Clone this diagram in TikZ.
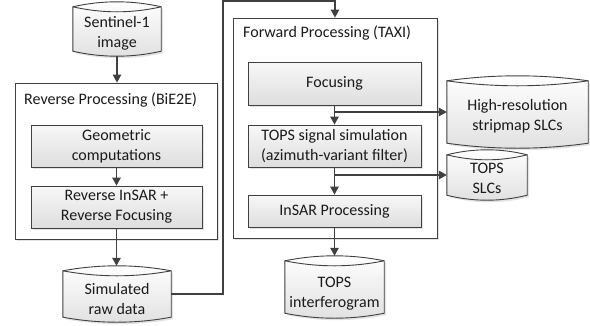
\documentclass[tikz,border=0pt]{standalone}
\usepackage{fontspec}
\setmainfont{Carlito}
\usetikzlibrary{arrows.meta,calc,shadows}

\definecolor{ln}{HTML}{404040}
\definecolor{tx}{HTML}{1A1A1A}

\tikzset{
  every node/.style={font=\fontsize{16}{20}\selectfont, text=tx, inner sep=0pt, align=center},
  shade/.style={drop shadow={opacity=0.22, shadow xshift=2pt, shadow yshift=-2pt}},
  outerbox/.style={draw=ln, line width=0.9pt, fill=white, shade},
  innerbox/.style={draw=ln, line width=0.9pt, top color=white!97!black, bottom color=white!87!black, shade,
    minimum width=173pt},
  holder/.style={draw=none},
  storefill/.style={draw=ln, line width=0.9pt, top color=white, bottom color=white!88!black, shade},
  storeline/.style={draw=ln, line width=0.9pt},
  arr/.style={draw=ln, line width=1.3pt, -{Triangle[length=8pt,width=8.5pt]}},
  conn/.style={draw=ln, line width=1.3pt},
}

\newcommand\storeshape[1]{%
  \path[storefill] let \p1=(#1.north west), \p2=(#1.south east), \n1={(\x2-\x1)/3} in
    (\x1,\y1-5pt) .. controls (\x1+\n1,\y1+5pt/3) and (\x2-\n1,\y1+5pt/3) .. (\x2,\y1-5pt)
    -- (\x2,\y2+5pt) .. controls (\x2-\n1,\y2-5pt/3) and (\x1+\n1,\y2-5pt/3) .. (\x1,\y2+5pt) -- cycle;
  \path[storeline] let \p1=(#1.north west), \p2=(#1.south east), \n1={(\x2-\x1)/3} in
    (\x1,\y1-5pt) .. controls (\x1+\n1,\y1-35pt/3) and (\x2-\n1,\y1-35pt/3) .. (\x2,\y1-5pt);
}

\begin{document}
\begin{tikzpicture}[x=1pt,y=-1pt]
\useasboundingbox (0,0) rectangle (590,325);

% outer boxes
\node[outerbox, minimum width=202pt, minimum height=156pt] (rev) at (116,161) {};
\node[outerbox, minimum width=204pt, minimum height=220pt] (fwd) at (335,128) {};
\node[anchor=west] (revt) at (24,100) {Reverse Processing (BiE2E)};
\node[anchor=west] (fwdt) at (243,33) {Forward Processing (TAXI)};

% inner boxes (reverse)
\node[innerbox, minimum width=171pt, minimum height=42pt] (geo) at (116.5,146) {Geometric\\computations};
\node[innerbox, minimum width=171pt, minimum height=42pt] (rin) at (116.5,207) {Reverse InSAR +\\Reverse Focusing};

% inner boxes (forward)
\node[innerbox, minimum height=43pt] (foc) at (334.5,83.5) {Focusing};
\node[innerbox, minimum height=42pt] (tops) at (334.5,146) {TOPS signal simulation\\(azimuth-variant filter)};
\node[innerbox, minimum height=32pt] (insar) at (334.5,211) {InSAR Processing};

% data stores
\node[holder, minimum width=88pt, minimum height=54pt] (s1) at (117,29) {};
\node[holder, minimum width=108pt, minimum height=56pt] (sim) at (117,294) {};
\node[holder, minimum width=99pt, minimum height=62pt] (tint) at (334.5,287) {};
\node[holder, minimum width=141pt, minimum height=72pt] (hr) at (517.5,112) {};
\node[holder, minimum width=80pt, minimum height=50pt] (slc) at (487,175) {};
\storeshape{s1}
\storeshape{sim}
\storeshape{tint}
\storeshape{hr}
\storeshape{slc}
\node (s1t) at ([yshift=-4pt]s1.center) {Sentinel-1\\image};
\node (simt) at ([yshift=-5pt]sim.center) {Simulated\\raw data};
\node (tintt) at ([yshift=-7pt]tint.center) {TOPS\\interferogram};
\node (hrt) at ([yshift=-4pt]hr.center) {High-resolution\\stripmap SLCs};
\node (slct) at ([yshift=-3pt]slc.center) {TOPS\\SLCs};

% connectors
\draw[arr] (s1.south) -- (s1.south |- rev.north);
\draw[arr] (geo) -- (rin);
\draw[arr] (rin.south) -- (rin.south |- sim.north);
\coordinate (c1) at (223,1);
\draw[arr] (sim.east) -| (c1) -| (fwd.north);
\draw[arr] (foc) -- (tops);
\draw[arr] (tops) -- (insar);
\draw[arr] (foc.south) |- (hr.west);
\draw[arr] (tops.south) |- (slc.west);
\draw[arr] (insar.south) -- (insar.south |- tint.north);
\end{tikzpicture}
\end{document}
